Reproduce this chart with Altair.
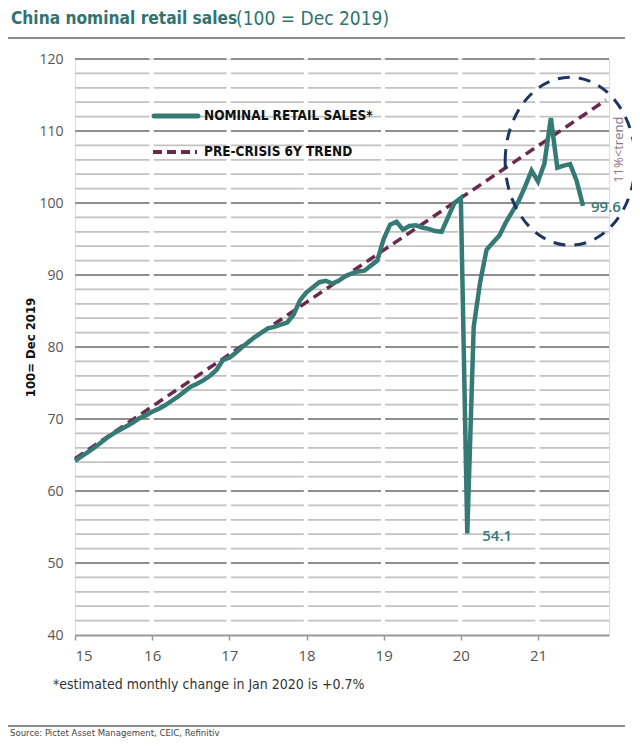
import altair as alt
import pandas as pd

# ---------------- data ----------------
years = [2015, 2016, 2017, 2018, 2019, 2020, 2021]
sales_2015 = [64.2, 64.8, 65.4, 66.0, 66.7, 67.4, 68.0, 68.5, 69.0, 69.5, 70.1, 70.5]
sales_2016 = [71.0, 71.4, 71.9, 72.5, 73.1, 73.8, 74.5, 74.9, 75.4, 76.0, 76.8, 78.2]
sales_2017 = [78.5, 79.2, 80.0, 80.7, 81.4, 82.0, 82.6, 82.8, 83.1, 83.4, 84.5, 86.5]
sales_2018 = [87.6, 88.3, 89.0, 89.2, 88.8, 89.2, 89.8, 90.2, 90.5, 90.6, 91.3, 92.0]
sales_2019 = [95.0, 97.0, 97.4, 96.3, 96.8, 96.9, 96.6, 96.4, 96.1, 96.0, 98.0, 100.0]
sales_2020 = [100.7, 54.1, 82.8, 89.0, 93.5, 94.5, 95.5, 97.3, 98.8, 100.3, 102.3, 104.5]
sales_2021 = [103.0, 105.5, 111.8, 104.9, 105.2, 105.4, 103.1, 99.6]

trend_t = [2015.0, 2021.88]
trend_v = [64.5, 114.3]

y_ticks = [40, 50, 60, 70, 80, 90, 100, 110, 120]
x_end = 2021.92

circle_center = [2021.417, 105.8]
gap_label_pos = [2022.05, 107.4]

TEAL = "#357a75"
PURPLE = "#6b2a4c"
NAVY = "#1c3563"
NARROW = "Liberation Sans Narrow, DejaVu Sans Condensed, Arial Narrow, sans-serif"

# ---------------- tables ----------------
all_sales = [sales_2015, sales_2016, sales_2017, sales_2018, sales_2019, sales_2020, sales_2021]
rows = []
for yr, vals in zip(years, all_sales):
    for i, v in enumerate(vals):
        rows.append({"t": yr + i / 12.0, "v": v})
sales_df = pd.DataFrame(rows)
trend_df = pd.DataFrame({"t": trend_t, "v": trend_v})

grid_rows = []
for yr in years:
    start = yr if yr == years[0] else yr + 0.02
    end = min(yr + 0.965, x_end)
    for lvl in range(42, 121, 2):
        grid_rows.append({"t0": start, "t1": end, "v": lvl, "major": lvl % 10 == 0})
grid_df = pd.DataFrame(grid_rows)

low = sales_df.loc[sales_df["v"].idxmin()]
last = sales_df.iloc[-1]
low_df = pd.DataFrame([{"t": low["t"], "v": low["v"], "txt": f"{low['v']:.1f}"}])
last_df = pd.DataFrame([{"t": last["t"], "v": last["v"], "txt": f"{last['v']:.1f}"}])
circle_df = pd.DataFrame([{"t": circle_center[0], "v": circle_center[1]}])
gap_df = pd.DataFrame([{"t": gap_label_pos[0], "v": gap_label_pos[1], "txt": "11%<trend"}])

xs = alt.Scale(domain=[2015, x_end], nice=False, zero=False)
ys = alt.Scale(domain=[40, 120], nice=False, zero=False)

x_axis = alt.Axis(
    title=None, values=years, labelExpr="datum.value - 2000", grid=False,
    domainColor="#999999", domainWidth=2, tickColor="#999999", tickWidth=1.5, tickSize=5,
    labelFont="Open Sans", labelFontSize=15, labelColor="#555555", labelPadding=8,
)
y_axis = alt.Axis(
    title="100= Dec 2019", values=y_ticks, grid=False, domain=False, ticks=False,
    labelFont="Open Sans", labelFontSize=14, labelColor="#555555", labelPadding=12,
    titleFont=NARROW, titleFontSize=13, titleFontWeight="bold", titleColor="#111111",
    titleX=-45, titleY=288, titleAngle=270, titleAlign="center", titleBaseline="middle",
)

grid_minor = alt.Chart(grid_df).transform_filter("!datum.major").mark_rule(
    color="#c2c2c2", strokeWidth=1.8
).encode(x=alt.X("t0:Q", scale=xs, axis=x_axis), x2="t1:Q", y=alt.Y("v:Q", scale=ys, axis=y_axis))
grid_major = alt.Chart(grid_df).transform_filter("datum.major").mark_rule(
    color="#8f8f8f", strokeWidth=1.8
).encode(x=alt.X("t0:Q", scale=xs), x2="t1:Q", y=alt.Y("v:Q", scale=ys))

trend = alt.Chart(trend_df).mark_line(
    color=PURPLE, strokeWidth=3.5, strokeDash=[10, 6]
).encode(x=alt.X("t:Q", scale=xs), y=alt.Y("v:Q", scale=ys))

sales = alt.Chart(sales_df).mark_line(
    color=TEAL, strokeWidth=4.5
).encode(x=alt.X("t:Q", scale=xs), y=alt.Y("v:Q", scale=ys))

ellipse = alt.Chart(circle_df).mark_point(
    shape="M -0.774 0 A 0.774 1 0 1 1 0.774 0 A 0.774 1 0 1 1 -0.774 0 Z",
    size=28224, filled=False, stroke=NAVY, strokeWidth=3, strokeDash=[12, 9], opacity=1,
).encode(x=alt.X("t:Q", scale=xs), y=alt.Y("v:Q", scale=ys))

low_txt = alt.Chart(low_df).mark_text(
    align="left", baseline="middle", dx=15, dy=3, font="Open Sans", fontSize=15,
    fontWeight=600, color=TEAL
).encode(x=alt.X("t:Q", scale=xs), y=alt.Y("v:Q", scale=ys), text="txt:N")
last_txt = alt.Chart(last_df).mark_text(
    align="left", baseline="middle", dx=8, dy=1, font="Open Sans", fontSize=15,
    fontWeight=600, color=TEAL
).encode(x=alt.X("t:Q", scale=xs), y=alt.Y("v:Q", scale=ys), text="txt:N")
gap_txt = alt.Chart(gap_df).mark_text(
    align="center", baseline="middle", angle=270, font="Open Sans", fontSize=13, color="#8d7384"
).encode(x=alt.X("t:Q", scale=xs), y=alt.Y("v:Q", scale=ys), text="txt:N")

one = alt.Data(values=[{}])

def rule(x1, x2, y, **kw):
    return alt.Chart(one).mark_rule(**kw).encode(x=alt.value(x1), x2=alt.value(x2), y=alt.value(y))

def text(x, y, s, **kw):
    return alt.Chart(one).mark_text(**kw).encode(x=alt.value(x), y=alt.value(y), text=alt.value(s))

legend = [
    rule(79, 123, 57, color=TEAL, strokeWidth=5, strokeCap="round"),
    text(129, 57, "NOMINAL RETAIL SALES*", align="left", baseline="middle", font=NARROW,
         fontSize=13.5, fontWeight="bold", color="#111111"),
    rule(78, 122, 93, color=PURPLE, strokeWidth=4, strokeDash=[9, 5]),
    text(129, 93, "PRE-CRISIS 6Y TREND", align="left", baseline="middle", font=NARROW,
         fontSize=13.5, fontWeight="bold", color="#111111"),
]

decor = [
    text(-64, -40, "China nominal retail sales", align="left", baseline="middle", font=NARROW,
         fontSize=17.2, fontWeight="bold", color="#2f7471"),
    text(161, -40, "(100 = Dec 2019)", align="left", baseline="middle", font=NARROW,
         fontSize=19, color="#2f7471"),
    rule(-67, 550, -21, color="#666666", strokeWidth=1.5),
    text(-22, 626, "*estimated monthly change in Jan 2020 is  +0.7%", align="left", baseline="middle",
         font=NARROW, fontSize=14, color="#333333"),
    rule(-67, 550, 667, color="#666666", strokeWidth=1.5),
    text(-65, 674, "Source: Pictet Asset Management, CEIC, Refinitiv", align="left", baseline="middle",
         font=NARROW, fontSize=9.5, color="#444444"),
]

chart = alt.layer(
    grid_minor, grid_major, trend, sales, ellipse, low_txt, last_txt, gap_txt, *legend, *decor
).properties(
    width=534, height=576,
    autosize=alt.AutoSizeParams(type="none"),
    padding={"left": 67, "top": 51, "right": 23, "bottom": 104},
).configure_view(stroke=None).configure(background="white")

chart.save("out.html", embed_options={"renderer": "svg", "actions": False})
